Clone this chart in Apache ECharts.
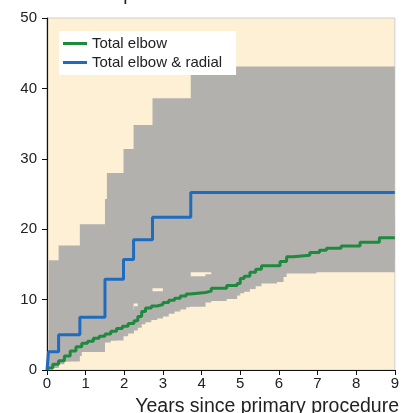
<!DOCTYPE html>
<html><head><meta charset="utf-8">
<script src="https://cdn.jsdelivr.net/npm/echarts@6/dist/echarts.min.js"></script>
<style>html,body{margin:0;padding:0;background:#fff}#c{width:402px;height:413px}</style>
</head><body><div id="c"></div>
<script>
const titleText = 'Cumulative percent revision';
const xAxisTitle = 'Years since primary procedure';
const seriesNames = ['Total elbow', 'Total elbow & radial'];

// Total elbow (green) step curve and its confidence band
const greenX  = [0, 0.03, 0.15, 0.3, 0.45, 0.6, 0.75, 0.9, 1.05, 1.2, 1.35, 1.5, 1.65, 1.8, 1.95, 2.1, 2.25, 2.35, 2.45, 2.55, 2.7, 2.85, 3.0, 3.15, 3.3, 3.45, 3.6, 3.7, 4.1, 4.25, 4.65, 4.92, 5.0, 5.1, 5.25, 5.4, 5.55, 5.95, 6.03, 6.12, 6.2, 6.37, 6.8, 6.97, 7.05, 7.23, 7.61, 8.1, 8.6, 9];
const greenY  = [0, 0.3, 0.8, 1.3, 2.0, 2.7, 3.3, 3.8, 4.1, 4.5, 4.8, 5.1, 5.5, 5.9, 6.2, 6.6, 7.0, 7.6, 8.3, 8.8, 9.1, 9.3, 9.6, 9.9, 10.2, 10.5, 10.8, 11.0, 11.2, 11.6, 12.0, 12.3, 13.0, 13.3, 13.9, 14.3, 14.8, 14.8, 15.4, 15.4, 16.1, 16.3, 16.7, 16.7, 17.0, 17.3, 17.6, 18.15, 18.8, 18.8];
const greenLo = [0, 0.1, 0.3, 0.8, 1.2, 1.6, 2.0, 2.6, 2.8, 3.0, 3.3, 3.9, 4.2, 4.5, 4.8, 5.2, 5.6, 6.0, 6.5, 6.8, 7.1, 7.3, 7.6, 8.0, 8.3, 8.6, 8.9, 9.0, 9.6, 9.8, 10.1, 10.6, 10.9, 11.1, 11.5, 11.9, 12.3, 12.5, 12.5, 13.2, 13.7, 13.7, 13.7, 14.2, 14.3, 14.4, 14.6, 15.0, 15.5, 15.5];
const greenHi = [0, 1.2, 2.0, 2.8, 3.6, 4.4, 5.0, 5.5, 5.9, 6.3, 6.6, 7.0, 7.4, 7.8, 8.1, 8.6, 9.05, 9.7, 10.4, 10.9, 11.2, 11.2, 11.7, 12.1, 12.5, 12.8, 13.1, 13.3, 13.6, 14.1, 14.5, 14.8, 15.5, 15.9, 16.5, 17.0, 17.5, 17.5, 18.2, 18.2, 18.9, 19.1, 19.6, 19.6, 19.9, 20.2, 20.6, 21.2, 22.0, 22.0];

// Total elbow & radial (blue) step curve and its confidence band
const blueX = [0, 0.04, 0.3, 0.85, 1.5, 1.98, 2.24, 2.73, 3.72, 9];
const blueY = [0, 2.6, 5.0, 7.5, 12.9, 15.7, 18.5, 21.7, 25.2, 25.2];
const blueBandX = [0.04, 0.3, 0.85, 1.5, 1.55, 1.98, 2.24, 2.73, 3.72, 9];
const blueLo    = [0.3, 1.2, 2.56, 4.2, 4.2, 6.5, 9.45, 11.6, 13.9, 13.9];
const blueHi    = [15.6, 17.7, 20.7, 24.3, 28.0, 31.4, 34.8, 38.6, 43.1, 43.1];

const FONT = 'Liberation Sans';
const CREAM = '#fdf0d4';
const GREY = '#b3b1ae';
const GREEN = '#1f8a3e';
const BLUE = '#1f6cbf';

function band(xs, lo, hi) {
  return {
    type: 'custom', silent: true, z: 1,
    data: [[xs[0], lo[0]]],
    renderItem: function (params, api) {
      const pts = [];
      for (let i = 0; i < xs.length - 1; i++) {
        pts.push(api.coord([xs[i], hi[i]]));
        pts.push(api.coord([xs[i + 1], hi[i]]));
      }
      for (let i = xs.length - 2; i >= 0; i--) {
        pts.push(api.coord([xs[i + 1], lo[i]]));
        pts.push(api.coord([xs[i], lo[i]]));
      }
      return { type: 'polygon', shape: { points: pts }, style: { fill: GREY, stroke: null } };
    }
  };
}

const chart = echarts.init(document.getElementById('c'), null, { renderer: 'canvas' });
chart.setOption({
  animation: false,
  textStyle: { fontFamily: FONT },
  grid: { left: 47, right: 4, top: 18, bottom: 43, show: true, backgroundColor: CREAM, borderColor: '#cfcfcf', borderWidth: 1 },
  graphic: [
    { type: 'text', left: 23, top: -15, style: { text: titleText, font: '19px "Liberation Sans"', fill: '#222' } },
    { type: 'text', right: 3, top: 397, style: { text: xAxisTitle, font: '19.5px "Liberation Sans"', fill: '#222' } }
  ],
  legend: {
    data: seriesNames, orient: 'vertical', left: 59, top: 31,
    backgroundColor: '#fff', padding: [5, 14, 5, 4], itemGap: 4,
    icon: 'rect', itemWidth: 24, itemHeight: 3,
    textStyle: { fontSize: 15, color: '#222', fontFamily: FONT }
  },
  xAxis: {
    type: 'value', min: 0, max: 9, interval: 1,
    axisLine: { show: true, lineStyle: { color: '#111', width: 1.2 } },
    axisTick: { show: true, length: 5, lineStyle: { color: '#111' } },
    axisLabel: { fontSize: 15, color: '#222', margin: 6 },
    splitLine: { show: false }
  },
  yAxis: {
    type: 'value', min: 0, max: 50, interval: 10,
    axisLine: { show: true, lineStyle: { color: '#111', width: 1.2 } },
    axisTick: { show: true, length: 5, lineStyle: { color: '#111' } },
    axisLabel: { fontSize: 15, color: '#222', margin: 10 },
    splitLine: { show: false }
  },
  series: [
    band(blueBandX, blueLo, blueHi),
    band(greenX, greenLo, greenHi),
    {
      name: seriesNames[0], type: 'line', step: 'end', symbol: 'none', z: 3,
      data: greenX.map((x, i) => [x, greenY[i]]),
      color: GREEN, lineStyle: { color: GREEN, width: 3 }
    },
    {
      name: seriesNames[1], type: 'line', step: 'end', symbol: 'none', z: 4,
      data: blueX.map((x, i) => [x, blueY[i]]),
      color: BLUE, lineStyle: { color: BLUE, width: 3 }
    }
  ]
});
</script></body></html>
